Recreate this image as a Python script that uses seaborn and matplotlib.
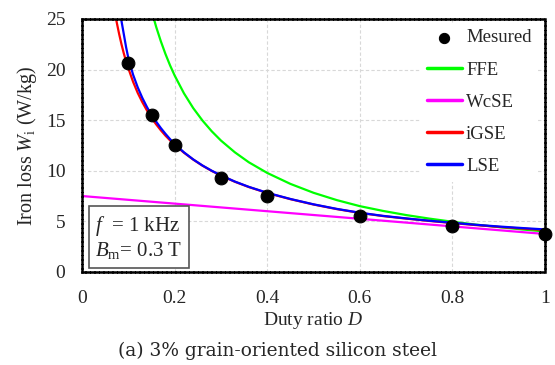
import pandas as pd
import seaborn as sns
import matplotlib.pyplot as plt

# measured iron loss vs duty ratio
d_meas = [0.1, 0.15, 0.2, 0.3, 0.4, 0.6, 0.8, 1.0]
w_meas = [20.6, 15.5, 12.5, 9.3, 7.5, 5.55, 4.55, 3.7]

# model curves
d_ffe = [0.14, 0.15, 0.16, 0.17, 0.18, 0.19, 0.2, 0.22, 0.24, 0.26, 0.28, 0.3, 0.33, 0.36,
         0.4, 0.45, 0.5, 0.55, 0.6, 0.65, 0.7, 0.75, 0.8, 0.85, 0.9, 0.95, 1.0]
w_ffe = [27.65, 25.82, 24.21, 22.8, 21.54, 20.41, 19.4, 17.65, 16.19, 14.96, 13.9, 12.98,
         11.82, 10.84, 9.78, 8.7, 7.82, 7.1, 6.5, 6.03, 5.62, 5.27, 4.96, 4.68, 4.43, 4.2, 4.0]

d_wcse = [0.0, 0.2, 0.4, 0.6, 0.8, 1.0]
w_wcse = [7.5, 6.75, 6.0, 5.25, 4.5, 3.75]

d_igse = [0.07, 0.075, 0.08, 0.085, 0.09, 0.095, 0.1, 0.11, 0.12, 0.13, 0.14, 0.15, 0.16,
          0.17, 0.18, 0.19, 0.2, 0.22, 0.24, 0.26, 0.28, 0.3, 0.33, 0.36, 0.4, 0.45, 0.5,
          0.55, 0.6, 0.65, 0.7, 0.75, 0.8, 0.85, 0.9, 0.95, 1.0]
w_igse = [25.8, 24.6, 23.5, 22.5, 21.6, 20.8, 20.1, 18.8, 17.7, 16.78, 15.96, 15.22,
          14.58, 14.0, 13.47, 13.0, 12.56, 11.78, 11.1, 10.5, 9.98, 9.52, 8.91, 8.39, 7.8,
          7.19, 6.66, 6.21, 5.83, 5.52, 5.27, 5.04, 4.83, 4.63, 4.45, 4.29, 4.14]

d_lse = [0.08, 0.085, 0.09, 0.095, 0.1, 0.11, 0.12, 0.13, 0.14, 0.15, 0.16, 0.17, 0.18,
         0.19, 0.2, 0.22, 0.24, 0.26, 0.28, 0.3, 0.33, 0.36, 0.4, 0.45, 0.5, 0.55, 0.6,
         0.65, 0.7, 0.75, 0.8, 0.85, 0.9, 0.95, 1.0]
w_lse = [26.4, 24.8, 23.5, 22.2, 21.1, 19.5, 18.25, 17.2, 16.3, 15.5, 14.85, 14.22, 13.65,
         13.12, 12.64, 11.82, 11.12, 10.52, 10.0, 9.54, 8.93, 8.41, 7.82, 7.21, 6.68, 6.23,
         5.85, 5.54, 5.29, 5.06, 4.86, 4.66, 4.49, 4.34, 4.2]

sns.set_style("white")
plt.rcParams['font.family'] = ['Liberation Serif', 'DejaVu Serif']
plt.rcParams['mathtext.fontset'] = 'custom'
plt.rcParams['mathtext.rm'] = 'Liberation Serif'
plt.rcParams['mathtext.it'] = 'Liberation Serif:italic'

fig = plt.figure(figsize=(5.55, 3.65), dpi=100)
ax = fig.add_axes([0.148, 0.255, 0.834, 0.693])

ax.grid(True, color='#d8d8d8', linestyle=(0, (3, 2)), linewidth=0.8)
ax.set_axisbelow(True)

curves = [("FFE", d_ffe, w_ffe, "#00ff00"),
          ("WcSE", d_wcse, w_wcse, "#ff00ff"),
          ("iGSE", d_igse, w_igse, "#ff0000"),
          ("LSE", d_lse, w_lse, "#0000ff")]
for name, dx, wy, col in curves:
    df = pd.DataFrame({"D": dx, "W": wy})
    sns.lineplot(data=df, x="D", y="W", color=col, linewidth=1.6, label=name, ax=ax)

meas = pd.DataFrame({"D": d_meas, "W": w_meas})
sns.scatterplot(data=meas, x="D", y="W", color="black", s=85, edgecolor="black",
                label="Mesured", ax=ax, zorder=5, clip_on=False)

ax.set_xlim(0, 1)
ax.set_ylim(0, 25)
ax.set_xticks([0, 0.2, 0.4, 0.6, 0.8, 1.0])
ax.set_xticklabels(["0", "0.2", "0.4", "0.6", "0.8", "1"])
ax.set_yticks([0, 5, 10, 15, 20, 25])
ax.tick_params(length=0, labelsize=14, pad=13)
ax.tick_params(axis='y', pad=12)

for sp in ax.spines.values():
    sp.set_linestyle((0, (1.0, 0.8)))
    sp.set_linewidth(1.8)
    sp.set_color("black")
    sp.set_zorder(7)

ax.set_xlabel("Duty ratio $\\mathit{D}$", fontsize=14, labelpad=2)
ax.set_ylabel("Iron loss $\\mathit{W}_{\\mathrm{i}}$ (W/kg)", fontsize=14.5, labelpad=5)

# legend order: measured first
h, l = ax.get_legend_handles_labels()
order = [l.index(n) for n in ["Mesured", "FFE", "WcSE", "iGSE", "LSE"]]
leg = ax.legend([h[i] for i in order], [l[i] for i in order], loc="upper right",
                bbox_to_anchor=(0.985, 0.985), fontsize=13.5, frameon=True,
                facecolor="white", edgecolor="none", framealpha=1, borderaxespad=0.0,
                labelspacing=0.8, handlelength=1.9, handletextpad=0.2, markerscale=0.8,
                borderpad=0.35)
for line in leg.get_lines():
    line.set_linewidth(2.5)

ax.text(0.028, 0.042, "$\\mathit{f}$  = 1 kHz\n$\\mathit{B}_{\\mathrm{m}}$= 0.3 T",
        transform=ax.transAxes, fontsize=15, va="bottom", ha="left", linespacing=1.15,
        bbox=dict(boxstyle="square,pad=0.3", facecolor="white", edgecolor="#555555",
                  linewidth=1.2), zorder=6)

fig.text(0.5, 0.038, "(a) 3% grain-oriented silicon steel", ha="center", va="center",
         fontsize=13.4, family=["DejaVu Serif"])

fig.savefig("out.png", dpi=100)
